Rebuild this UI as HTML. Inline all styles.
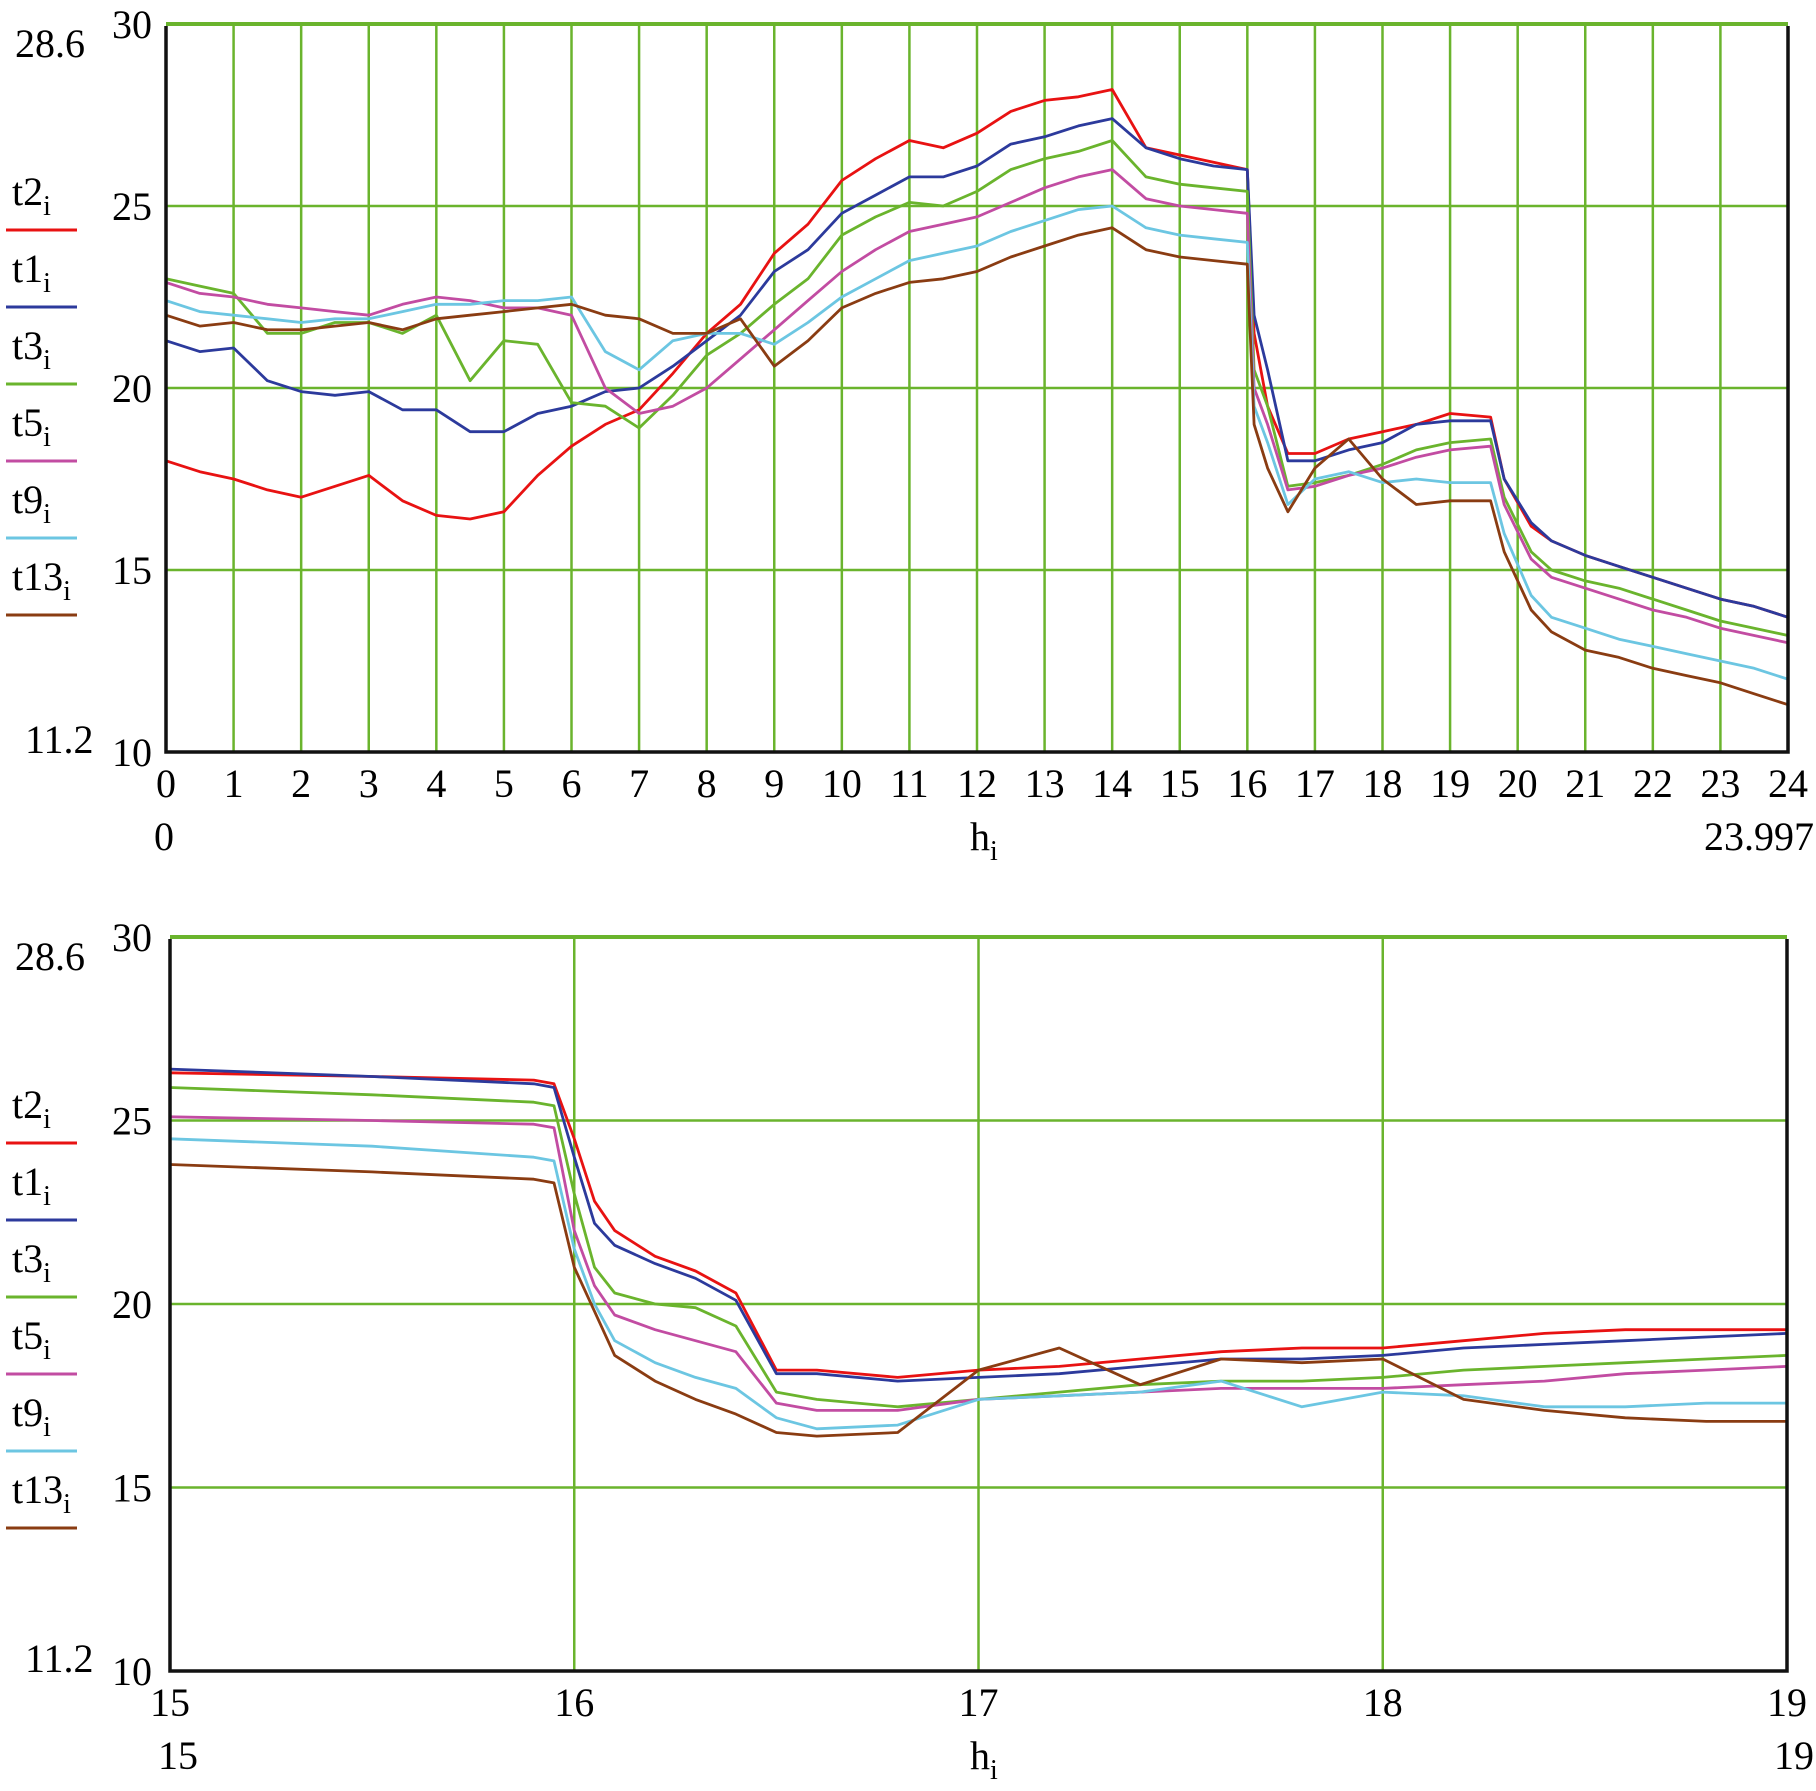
<!DOCTYPE html>
<html><head><meta charset="utf-8"><style>
html,body{margin:0;padding:0;background:#fff;}
svg{display:block;font-family:"Liberation Serif",serif;}
</style></head><body>
<svg id="svg" width="1816" height="1791" viewBox="0 0 1816 1791" xmlns="http://www.w3.org/2000/svg"></svg>
<script>
const seriesNames = ["t2","t1","t3","t5","t9","t13"];
const seriesColors = ["#e81212","#2c3a9c","#6ab42d","#c24ca2","#6cc6e2","#8a3c12"];
const topTimes = [0,0.5,1,1.5,2,2.5,3,3.5,4,4.5,5,5.5,6,6.5,7,7.5,8,8.5,9,9.5,10,10.5,11,11.5,12,12.5,13,13.5,14,14.5,15,15.5,16,16.1,16.3,16.6,17,17.5,18,18.5,19,19.6,19.8,20.2,20.5,21,21.5,22,22.5,23,23.5,24];
const topT2 = [18.0,17.7,17.5,17.2,17.0,17.3,17.6,16.9,16.5,16.4,16.6,17.6,18.4,19.0,19.4,20.4,21.5,22.3,23.7,24.5,25.7,26.3,26.8,26.6,27.0,27.6,27.9,28.0,28.2,26.6,26.4,26.2,26.0,21.5,19.5,18.2,18.2,18.6,18.8,19.0,19.3,19.2,17.5,16.2,15.8,15.4,15.1,14.8,14.5,14.2,14.0,13.7];
const topT1 = [21.3,21.0,21.1,20.2,19.9,19.8,19.9,19.4,19.4,18.8,18.8,19.3,19.5,19.9,20.0,20.6,21.3,22.0,23.2,23.8,24.8,25.3,25.8,25.8,26.1,26.7,26.9,27.2,27.4,26.6,26.3,26.1,26.0,22.0,20.5,18.0,18.0,18.3,18.5,19.0,19.1,19.1,17.5,16.3,15.8,15.4,15.1,14.8,14.5,14.2,14.0,13.7];
const topT3 = [23.0,22.8,22.6,21.5,21.5,21.8,21.8,21.5,22.0,20.2,21.3,21.2,19.6,19.5,18.9,19.8,20.9,21.5,22.3,23.0,24.2,24.7,25.1,25.0,25.4,26.0,26.3,26.5,26.8,25.8,25.6,25.5,25.4,20.5,19.5,17.3,17.4,17.6,17.9,18.3,18.5,18.6,17.0,15.5,15.0,14.7,14.5,14.2,13.9,13.6,13.4,13.2];
const topT5 = [22.9,22.6,22.5,22.3,22.2,22.1,22.0,22.3,22.5,22.4,22.2,22.2,22.0,20.0,19.3,19.5,20.0,20.8,21.6,22.4,23.2,23.8,24.3,24.5,24.7,25.1,25.5,25.8,26.0,25.2,25.0,24.9,24.8,20.0,19.0,17.2,17.3,17.6,17.8,18.1,18.3,18.4,16.8,15.3,14.8,14.5,14.2,13.9,13.7,13.4,13.2,13.0];
const topT9 = [22.4,22.1,22.0,21.9,21.8,21.9,21.9,22.1,22.3,22.3,22.4,22.4,22.5,21.0,20.5,21.3,21.5,21.5,21.2,21.8,22.5,23.0,23.5,23.7,23.9,24.3,24.6,24.9,25.0,24.4,24.2,24.1,24.0,19.5,18.5,16.8,17.5,17.7,17.4,17.5,17.4,17.4,16.0,14.3,13.7,13.4,13.1,12.9,12.7,12.5,12.3,12.0];
const topT13 = [22.0,21.7,21.8,21.6,21.6,21.7,21.8,21.6,21.9,22.0,22.1,22.2,22.3,22.0,21.9,21.5,21.5,21.9,20.6,21.3,22.2,22.6,22.9,23.0,23.2,23.6,23.9,24.2,24.4,23.8,23.6,23.5,23.4,19.0,17.8,16.6,17.8,18.6,17.5,16.8,16.9,16.9,15.5,13.9,13.3,12.8,12.6,12.3,12.1,11.9,11.6,11.3];
const botTimes = [15,15.5,15.9,15.95,16.0,16.05,16.1,16.2,16.3,16.4,16.5,16.6,16.8,17.0,17.2,17.4,17.6,17.8,18.0,18.2,18.4,18.6,18.8,19.0];
const botT2 = [26.3,26.2,26.1,26.0,24.5,22.8,22.0,21.3,20.9,20.3,18.2,18.2,18.0,18.2,18.3,18.5,18.7,18.8,18.8,19.0,19.2,19.3,19.3,19.3];
const botT1 = [26.4,26.2,26.0,25.9,24.0,22.2,21.6,21.1,20.7,20.1,18.1,18.1,17.9,18.0,18.1,18.3,18.5,18.5,18.6,18.8,18.9,19.0,19.1,19.2];
const botT3 = [25.9,25.7,25.5,25.4,23.0,21.0,20.3,20.0,19.9,19.4,17.6,17.4,17.2,17.4,17.6,17.8,17.9,17.9,18.0,18.2,18.3,18.4,18.5,18.6];
const botT5 = [25.1,25.0,24.9,24.8,22.0,20.5,19.7,19.3,19.0,18.7,17.3,17.1,17.1,17.4,17.5,17.6,17.7,17.7,17.7,17.8,17.9,18.1,18.2,18.3];
const botT9 = [24.5,24.3,24.0,23.9,21.5,20.0,19.0,18.4,18.0,17.7,16.9,16.6,16.7,17.4,17.5,17.6,17.9,17.2,17.6,17.5,17.2,17.2,17.3,17.3];
const botT13 = [23.8,23.6,23.4,23.3,21.0,19.8,18.6,17.9,17.4,17.0,16.5,16.4,16.5,18.2,18.8,17.8,18.5,18.4,18.5,17.4,17.1,16.9,16.8,16.8];
const yTicks = [10,15,20,25,30];
const topXTicks = [0,1,2,3,4,5,6,7,8,9,10,11,12,13,14,15,16,17,18,19,20,21,22,23,24];
const botXTicks = [15,16,17,18,19];

const NS="http://www.w3.org/2000/svg";
const svg=document.getElementById('svg');
function mk(tag,attrs,parent){const e=document.createElementNS(NS,tag);for(const k in attrs)e.setAttribute(k,attrs[k]);(parent||svg).appendChild(e);return e;}

function drawPlot(p){
  const g=mk('g',{});
  
  
  const sx=v=>p.x0+(v-p.xmin)/(p.xmax-p.xmin)*(p.x1-p.x0);
  const sy=v=>p.y1-(v-10)/20*(p.y1-p.y0);
  p.gridX.forEach(t=>{const l=mk('line',{x1:sx(t),x2:sx(t),y1:p.y0,y2:p.y1,stroke:'#6ab42d','stroke-width':2.5},g);
    });
  yTicks.forEach(t=>{const l=mk('line',{x1:p.x0,x2:p.x1,y1:sy(t),y2:sy(t),stroke:'#6ab42d','stroke-width':t==30?4:2.5},g);
    });
  p.series.forEach((d,si)=>{
    let s='';
    for(let i=0;i<p.times.length;i++){
      const X=sx(p.times[i]),Y=sy(d[i]);
      s+=(i==0?'M':' L')+X.toFixed(1)+' '+Y.toFixed(1);
    }
    const path=mk('path',{d:s,fill:'none',stroke:seriesColors[si],'stroke-width':2.8,'stroke-linejoin':'round'},g);
    
    
  });
  const f=mk('path',{d:`M${p.x0} ${p.y0+2} V${p.y1} H${p.x1} V${p.y0+2}`,fill:'none',stroke:'#111','stroke-width':3.5},g);
  
  yTicks.forEach(t=>{const tx=mk('text',{x:152,y:sy(t)+14,'font-size':40,'text-anchor':'end'},g);tx.textContent=t;
    });
  p.xTicks.forEach(t=>{const tx=mk('text',{x:sx(t),y:p.y1+45,'font-size':40,'text-anchor':'middle'},g);tx.textContent=t;
    });
  const a=mk('text',{x:15,y:p.y0+33,'font-size':40},g);a.textContent='28.6';
  
  const b=mk('text',{x:25,y:p.y1+1,'font-size':40},g);b.textContent='11.2';
  
  const c=mk('text',{x:p.x0-12,y:p.y1+98,'font-size':40},g);c.textContent=p.lo;
  
  const e=mk('text',{x:1814,y:p.y1+98,'font-size':40,'text-anchor':'end'},g);e.textContent=p.hi;
  
  const h=mk('text',{x:970,y:p.y1+98,'font-size':40},g);h.innerHTML='h<tspan font-size="28" dy="10">i</tspan>';
  
  seriesNames.forEach((n,i)=>{
    const yy=p.legY+i*77;
    const t=mk('text',{x:12,y:yy-25,'font-size':40},g);t.innerHTML=n+'<tspan font-size="28" dy="10">i</tspan>';
    
    const l=mk('line',{x1:6,x2:77,y1:yy,y2:yy,stroke:seriesColors[i],'stroke-width':3},g);
    
  });
}
drawPlot({name:'full-day-plot',x0:166,x1:1788,y0:24,y1:752,xmin:0,xmax:24,times:topTimes,
  series:[topT2,topT1,topT3,topT5,topT9,topT13],gridX:topXTicks.slice(1,-1),xTicks:topXTicks,lo:'0',hi:'23.997',legY:230});
drawPlot({name:'zoom-plot',x0:170,x1:1787,y0:937,y1:1671,xmin:15,xmax:19,times:botTimes,
  series:[botT2,botT1,botT3,botT5,botT9,botT13],gridX:[16,17,18],xTicks:botXTicks,lo:'15',hi:'19',legY:1143});
</script>
</body></html>
